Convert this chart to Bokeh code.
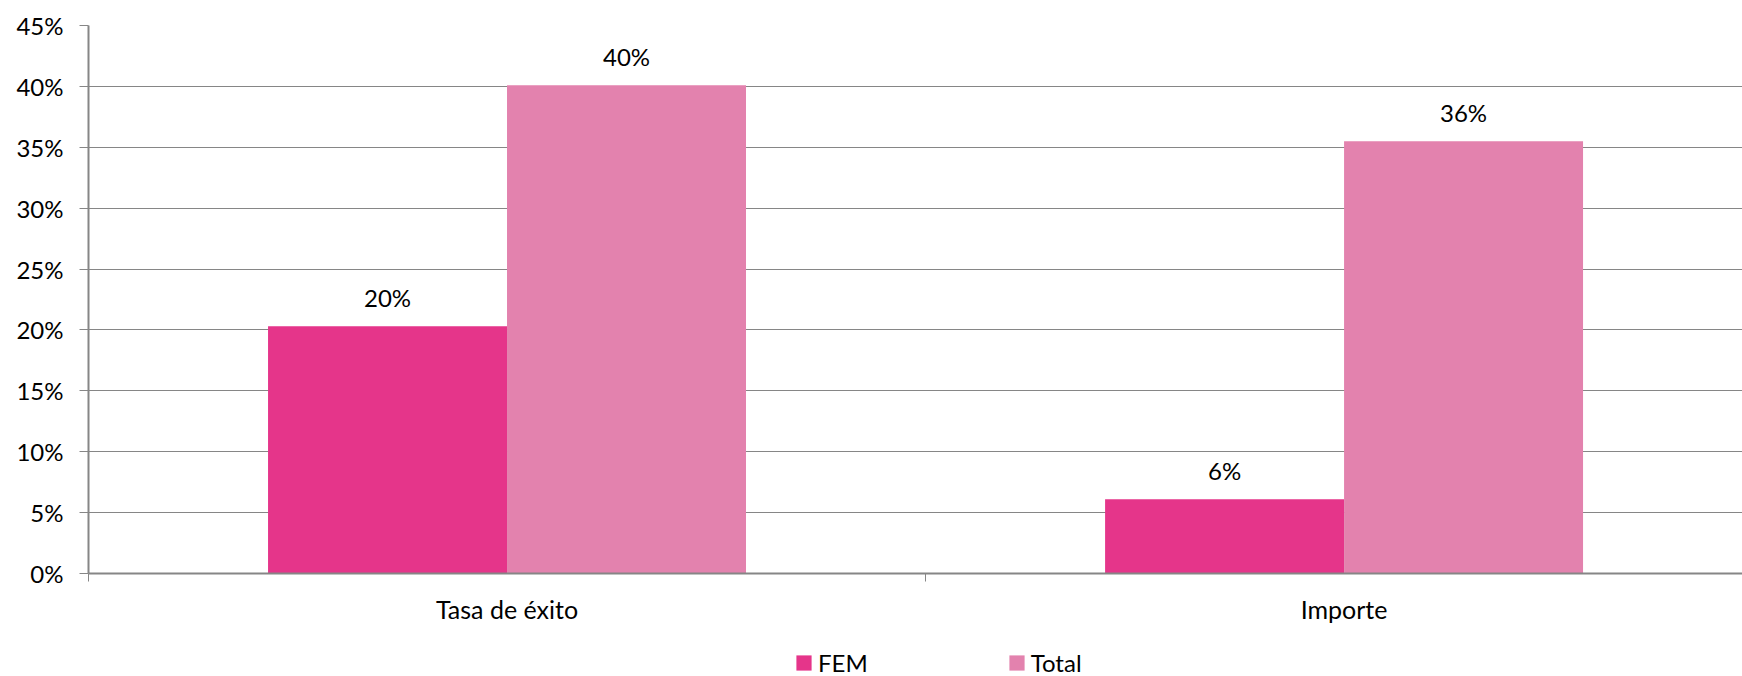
from bokeh.plotting import figure
from bokeh.layouts import column
from bokeh.models import (ColumnDataSource, Range1d, FixedTicker, NumeralTickFormatter,
                          Legend, LegendItem)
from bokeh.core.properties import value
from bokeh.embed import file_html
from bokeh.resources import INLINE

categories = ["Tasa de éxito", "Importe"]
fem = [0.203, 0.061]
total = [0.401, 0.355]
series_names = ["FEM", "Total"]
y_ticks = [0.0, 0.05, 0.10, 0.15, 0.20, 0.25, 0.30, 0.35, 0.40, 0.45]

FEM_COLOR = "#E5358A"
TOTAL_COLOR = "#E382AE"
GRID = "#868686"
FONT = "Lato"
FS = "24px"

bar_w = 0.2855
idx = list(range(len(categories)))
src_fem = ColumnDataSource(dict(
    x=[i + 0.5 - bar_w / 2 for i in idx], top=fem,
    lab=[f"{round(v * 100)}%" for v in fem]))
src_tot = ColumnDataSource(dict(
    x=[i + 0.5 + bar_w / 2 for i in idx], top=total,
    lab=[f"{round(v * 100)}%" for v in total]))

p = figure(width=1742, height=630, output_backend="svg", toolbar_location=None,
           x_range=Range1d(0, 1.976), y_range=Range1d(0, 0.45),
           min_border_left=88, min_border_right=0, min_border_top=25,
           min_border_bottom=57)
p.outline_line_color = None
p.background_fill_color = "white"

p.vbar(x="x", top="top", width=bar_w, source=src_fem,
       fill_color=FEM_COLOR, line_color=None)
p.vbar(x="x", top="top", width=bar_w, source=src_tot,
       fill_color=TOTAL_COLOR, line_color=None)

for s in (src_fem, src_tot):
    p.text(x="x", y="top", text="lab", source=s, text_align="center",
           text_baseline="alphabetic", y_offset=-29,
           text_font=value(FONT), text_font_size=FS, text_color="#000000")

# y axis
p.yaxis.ticker = FixedTicker(ticks=y_ticks)
p.yaxis.formatter = NumeralTickFormatter(format="0%")
p.yaxis.axis_line_color = GRID
p.yaxis.axis_line_width = 2
p.yaxis.major_tick_line_color = GRID
p.yaxis.major_tick_out = 9
p.yaxis.major_tick_in = 0
p.yaxis.minor_tick_line_color = None
p.yaxis.major_label_text_font = FONT
p.yaxis.major_label_text_font_size = FS
p.yaxis.major_label_text_color = "#000000"
p.yaxis.major_label_standoff = 16

# x axis
p.xaxis.ticker = FixedTicker(ticks=[i + 0.5 for i in idx],
                             minor_ticks=[float(i) for i in range(len(categories) + 1)])
p.xaxis.major_label_overrides = {i + 0.5: c for i, c in zip(idx, categories)}
p.xaxis.axis_line_color = GRID
p.xaxis.axis_line_width = 2
p.xaxis.major_tick_line_color = None
p.xaxis.minor_tick_line_color = GRID
p.xaxis.minor_tick_out = 8
p.xaxis.minor_tick_in = 0
p.xaxis.major_label_text_font = FONT
p.xaxis.major_label_text_font_size = "25px"
p.xaxis.major_label_text_color = "#000000"
p.xaxis.major_label_standoff = 12

p.xgrid.grid_line_color = None
p.ygrid.grid_line_color = GRID
p.ygrid.grid_line_width = 1
p.ygrid.ticker = FixedTicker(ticks=y_ticks)

# legend strip below the chart (bars here fall outside its view; only the key shows)
lg = figure(width=1742, height=46, output_backend="svg", toolbar_location=None,
            x_range=Range1d(0, 2), y_range=Range1d(1, 2),
            x_axis_location=None, y_axis_location=None,
            min_border_left=0, min_border_right=0, min_border_top=0,
            min_border_bottom=0)
lg.grid.visible = False
lg.outline_line_color = None
l1 = lg.vbar(x="x", top="top", width=bar_w, source=src_fem,
             fill_color=FEM_COLOR, line_color=None)
l2 = lg.vbar(x="x", top="top", width=bar_w, source=src_tot,
             fill_color=TOTAL_COLOR, line_color=None)
legend = Legend(items=[LegendItem(label=series_names[0], renderers=[l1]),
                       LegendItem(label=series_names[1], renderers=[l2])],
                orientation="horizontal", location=(706, -1),
                border_line_color=None, background_fill_color=None,
                glyph_width=19, glyph_height=19, label_standoff=5, spacing=139,
                label_height=15,
                label_text_font=FONT, label_text_font_size=FS,
                label_text_color="#000000", margin=0, padding=0)
lg.add_layout(legend, "center")

layout = column(p, lg, spacing=0)
open("out.html", "w").write(file_html(layout, INLINE))
